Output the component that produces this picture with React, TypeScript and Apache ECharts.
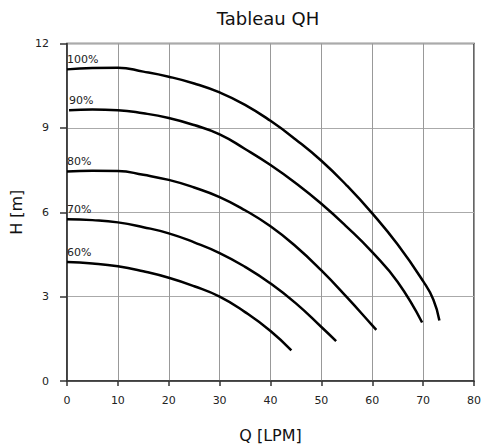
import React, { useEffect, useRef } from "react";
import * as echarts from "echarts";

const titleText = "Tableau QH";
const xName = "Q [LPM]";
const yName = "H [m]";
const seriesNames = ["100%", "90%", "80%", "70%", "60%"];

const curve100: number[][] = [[0, 11.08], [5, 11.13], [10, 11.14], [15, 11.0], [20, 10.82], [25, 10.58], [30, 10.26], [35, 9.82], [40, 9.25], [45, 8.58], [50, 7.83], [55, 6.95], [60, 5.96], [65, 4.85], [70, 3.55], [72, 2.9], [73.2, 2.15]];
const curve90: number[][] = [[0.4, 9.63], [5, 9.65], [10, 9.63], [15, 9.52], [20, 9.35], [25, 9.1], [30, 8.77], [35, 8.25], [40, 7.68], [45, 7.03], [50, 6.3], [55, 5.48], [60, 4.58], [65, 3.52], [69.8, 2.08]];
const curve80: number[][] = [[0, 7.45], [5, 7.48], [10, 7.47], [15, 7.33], [20, 7.15], [25, 6.88], [30, 6.54], [35, 6.07], [40, 5.5], [45, 4.78], [50, 3.93], [55, 2.98], [60, 1.98], [60.8, 1.82]];
const curve70: number[][] = [[0, 5.75], [5, 5.72], [10, 5.64], [15, 5.47], [20, 5.25], [25, 4.93], [30, 4.55], [35, 4.06], [40, 3.47], [45, 2.76], [50, 1.92], [52.9, 1.42]];
const curve60: number[][] = [[0, 4.23], [5, 4.18], [10, 4.08], [15, 3.9], [20, 3.67], [25, 3.37], [30, 3.0], [35, 2.45], [40, 1.78], [44.1, 1.09]];

const curves = [curve100, curve90, curve80, curve70, curve60];

const FONT = "DejaVu Sans";

export default function App() {
  const ref = useRef<HTMLDivElement>(null);
  useEffect(() => {
    if (!ref.current) return;
    const chart = echarts.init(ref.current, null, { renderer: "svg" });
    const series = curves.map((c, i) => ({
      type: "line",
      name: seriesNames[i],
      smooth: 0.5,
      showSymbol: true,
      symbol: "circle",
      symbolSize: 0,
      lineStyle: { color: "#000", width: 2.5 },
      itemStyle: { color: "#000" },
      data: c.map((p, j) =>
        j === 0
          ? {
              value: p,
              label: {
                show: true,
                formatter: seriesNames[i],
                position: "top",
                align: "left",
                distance: 4,
                fontFamily: FONT,
                fontSize: 11,
                color: "#222",
              },
            }
          : { value: p }
      ),
    }));
    chart.setOption({
      animation: false,
      textStyle: { fontFamily: FONT },
      graphic: [
        {
          type: "text",
          x: 268,
          y: 18,
          style: {
            text: titleText,
            fontFamily: FONT,
            fontSize: 18,
            fill: "#111",
            align: "center",
            verticalAlign: "middle",
          },
        },
      ],
      grid: {
        left: 67,
        right: 9,
        top: 43.5,
        bottom: 64,
        show: true,
        borderColor: "#333",
        borderWidth: 1.5,
        backgroundColor: "transparent",
      },
      xAxis: {
        type: "value",
        min: 0,
        max: 80,
        interval: 10,
        name: xName,
        nameLocation: "middle",
        nameGap: 46,
        nameTextStyle: { fontFamily: FONT, fontSize: 16, color: "#111" },
        axisLine: { show: true, lineStyle: { color: "#333", width: 1.5 } },
        axisTick: { show: true, length: 5, lineStyle: { color: "#333", width: 1.5 } },
        axisLabel: { fontFamily: FONT, fontSize: 11, color: "#222", margin: 14 },
        splitLine: { show: true, lineStyle: { color: "#999", width: 1 } },
      },
      yAxis: {
        type: "value",
        min: 0,
        max: 12,
        interval: 3,
        name: yName,
        nameLocation: "middle",
        nameGap: 41,
        nameRotate: 90,
        nameTextStyle: { fontFamily: FONT, fontSize: 16, color: "#111" },
        axisLine: { show: true, lineStyle: { color: "#333", width: 1.5 } },
        axisTick: { show: true, length: 7, lineStyle: { color: "#333", width: 1.5 } },
        axisLabel: { fontFamily: FONT, fontSize: 11, color: "#222", margin: 18 },
        splitLine: { show: true, lineStyle: { color: "#aaa", width: 1 } },
      },
      series,
    });
    return () => chart.dispose();
  }, []);
  return (
    <div
      ref={ref}
      style={{ position: "fixed", left: 0, top: 0, width: 484, height: 448, background: "#fff" }}
    />
  );
}
